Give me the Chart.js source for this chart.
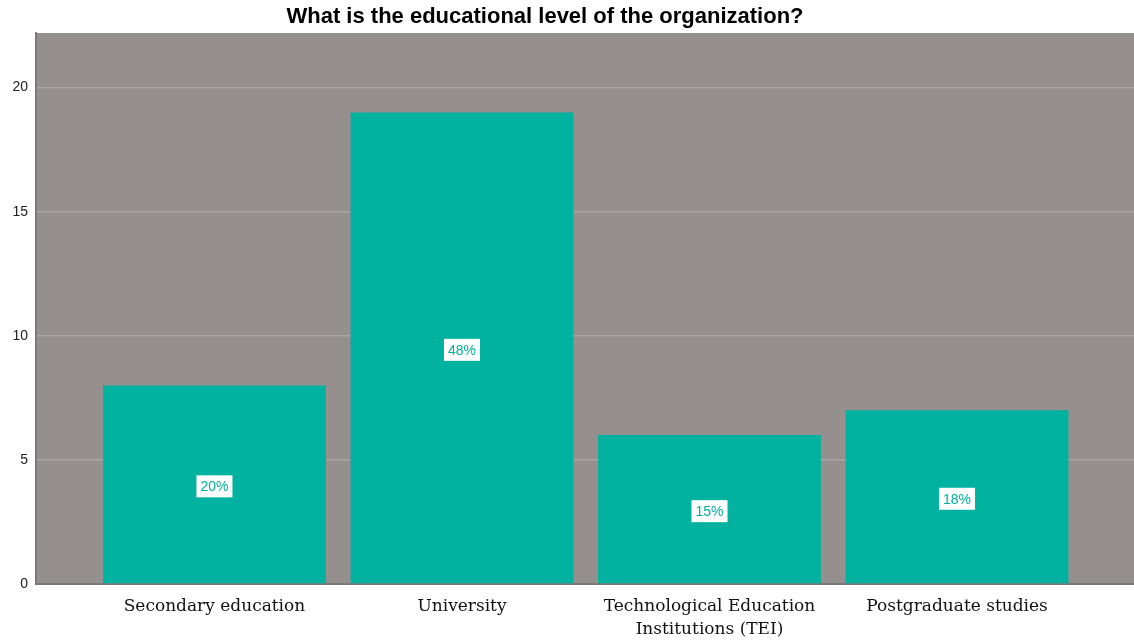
<!DOCTYPE html>
<html lang="en">
<head>
    <meta charset="UTF-8" />
    <title>Educational level</title>
    <script src="https://cdn.jsdelivr.net/npm/chart.js"></script>
    <style>
        html, body {
            margin: 0;
            padding: 0;
            background: #fff;
        }
        #wrap {
            width: 1134px;
            height: 641px;
        }
    </style>
</head>
<body>
    <div id="wrap"><canvas id="eduChart" width="1134" height="641"></canvas></div>

    <script>
        const chartTitle = "What is the educational level of the organization?";
        const categories = [
            "Secondary education",
            "University",
            ["Technological Education", "Institutions (TEI)"],
            "Postgraduate studies"
        ];
        const counts = [8, 19, 6, 7];
        const yTicks = [0, 5, 10, 15, 20];
        const yMax = 22.2;

        const total = counts.reduce((a, b) => a + b, 0);

        // gray panel behind the plot
        const panelBg = {
            id: 'panelBg',
            beforeDraw(chart) {
                const { ctx, chartArea: a } = chart;
                ctx.save();
                ctx.fillStyle = '#958f8d';
                ctx.fillRect(a.left, a.top, a.right - a.left, a.bottom - a.top);
                ctx.restore();
            }
        };

        // percentage boxes in the middle of each bar
        const pctLabels = {
            id: 'pctLabels',
            afterDatasetsDraw(chart) {
                const { ctx } = chart;
                const meta = chart.getDatasetMeta(0);
                ctx.save();
                ctx.font = '14px "Liberation Sans", Arial, sans-serif';
                ctx.textAlign = 'center';
                ctx.textBaseline = 'middle';
                meta.data.forEach((bar, i) => {
                    const text = Math.round(counts[i] / total * 100) + '%';
                    const cx = bar.x;
                    const cy = (bar.y + bar.base) / 2 + 2;
                    const w = ctx.measureText(text).width + 8;
                    const h = 22;
                    ctx.fillStyle = '#ffffff';
                    ctx.fillRect(cx - w / 2, cy - h / 2, w, h);
                    ctx.fillStyle = '#00b09e';
                    ctx.fillText(text, cx, cy + 1);
                });
                ctx.restore();
            }
        };

        const titleText = {
            id: 'titleText',
            afterDraw(chart) {
                const { ctx } = chart;
                ctx.save();
                ctx.font = 'bold 22px "Liberation Sans", Arial, sans-serif';
                ctx.fillStyle = '#000';
                ctx.textAlign = 'center';
                ctx.textBaseline = 'middle';
                ctx.fillText(chartTitle, 545, 17);
                ctx.restore();
            }
        };

        const ctx = document.getElementById('eduChart').getContext('2d');
        new Chart(ctx, {
            type: 'bar',
            data: {
                datasets: [{
                    data: counts.map((v, i) => ({ x: i, y: v })),
                    backgroundColor: '#00b29f',
                    borderWidth: 0,
                    barPercentage: 0.9,
                    categoryPercentage: 1.0
                }]
            },
            options: {
                responsive: false,
                animation: false,
                layout: { padding: { top: 33, right: 0, left: 0, bottom: 0 } },
                plugins: {
                    legend: { display: false },
                    title: { display: false },
                    tooltip: { enabled: false }
                },
                scales: {
                    x: {
                        type: 'linear',
                        offset: false,
                        min: -0.721,
                        max: 3.715,
                        afterBuildTicks: s => { s.ticks = categories.map((_, i) => ({ value: i })); },
                        afterFit: s => { s.height = 57; },
                        grid: { display: false, drawTicks: false },
                        border: { display: true, color: '#7a7a7a', width: 2 },
                        ticks: {
                            autoSkip: false,
                            maxRotation: 0,
                            padding: 11,
                            color: '#111',
                            font: { family: '"DejaVu Serif", serif', size: 17, lineHeight: 1.35 },
                            callback: v => categories[v]
                        }
                    },
                    y: {
                        min: 0,
                        max: yMax,
                        afterBuildTicks: s => { s.ticks = yTicks.map(v => ({ value: v })); },
                        afterFit: s => { s.width = 36; },
                        grid: { color: '#aba6a4', lineWidth: 1.5, drawTicks: false },
                        border: { display: true, color: '#7a7a7a', width: 2 },
                        ticks: {
                            padding: 8,
                            color: '#222',
                            font: { family: '"Liberation Sans", Arial, sans-serif', size: 14 }
                        }
                    }
                }
            },
            plugins: [panelBg, pctLabels, titleText]
        });
    </script>
</body>
</html>
